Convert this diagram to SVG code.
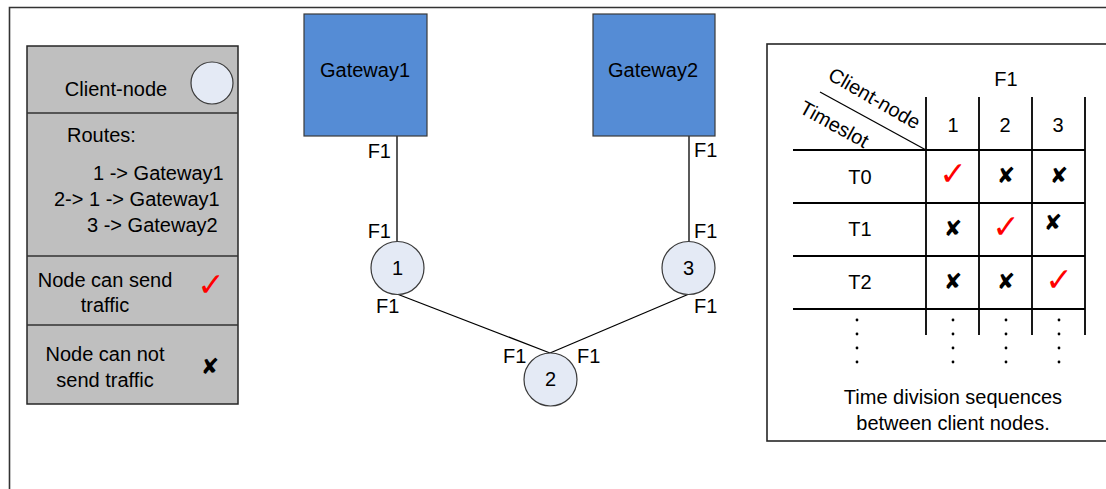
<svg xmlns="http://www.w3.org/2000/svg" width="1106" height="489" viewBox="0 0 1106 489">
<style>
text{font-family:"Liberation Sans",Arial,sans-serif;font-size:20px;fill:#000}
.m{text-anchor:middle}
.e{text-anchor:end}
.gw{fill:#558CD5;stroke:#3A3A3A;stroke-width:1.2}
.cn{fill:#E4EAF5;stroke:#3A3A3A;stroke-width:1.2}
.ln{stroke:#000;stroke-width:1.3;fill:none}
.gl{stroke:#000;stroke-width:1.8;fill:none}
.ck{font-family:"DejaVu Sans",sans-serif;font-size:33px;fill:#FF0000;text-anchor:middle}
.xx{font-family:"DejaVu Sans",sans-serif;font-size:22px;fill:#000;text-anchor:middle}
.dot{fill:#000}
</style>
<rect width="1106" height="489" fill="#fff"/>
<g id="frame">
<path d="M1106 7.5H9.5V489" fill="none" stroke="#333" stroke-width="1.6"/>
</g>
<g id="legend">
<rect x="27" y="46" width="211" height="358" fill="#BFBFBF" stroke="#262626" stroke-width="1.5"/>
<path d="M27 113H238M27 256H238M27 325H238" stroke="#333" stroke-width="1.5"/>
<text class="m" x="116" y="96">Client-node</text>
<circle class="cn" cx="212" cy="83" r="21"/>
<text x="67" y="142">Routes:</text>
<text x="93" y="180">1 -&gt; Gateway1</text>
<text x="54" y="206">2-&gt; 1 -&gt; Gateway1</text>
<text x="87" y="232">3 -&gt; Gateway2</text>
<text class="m" x="105" y="287">Node can send</text>
<text class="m" x="105" y="312">traffic</text>
<text class="ck" x="211" y="296">✓</text>
<text class="m" x="105" y="361">Node can not</text>
<text class="m" x="105" y="387">send traffic</text>
<text class="xx" x="210" y="374">✘</text>
</g>
<g id="connectors">
<path class="ln" d="M397 136V242"/>
<path class="ln" d="M689 136V242"/>
<path class="ln" d="M397 294L550 353"/>
<path class="ln" d="M689 294L550 353"/>
<text class="e" x="391" y="158">F1</text>
<text class="e" x="391" y="238">F1</text>
<text x="694" y="157">F1</text>
<text x="694" y="238">F1</text>
<text x="376" y="313">F1</text>
<text x="694" y="313">F1</text>
<text x="503" y="363">F1</text>
<text x="577" y="363">F1</text>
</g>
<g id="gateway1">
<rect class="gw" x="304" y="14" width="123" height="122"/>
<text class="m" x="365" y="77">Gateway1</text>
</g>
<g id="gateway2">
<rect class="gw" x="593" y="14" width="122" height="122"/>
<text class="m" x="653" y="77">Gateway2</text>
</g>
<g id="node1">
<circle class="cn" cx="397.5" cy="268" r="26.5"/>
<text class="m" x="397.5" y="275">1</text>
</g>
<g id="node2">
<circle class="cn" cx="550.5" cy="379.5" r="26.5"/>
<text class="m" x="550.5" y="386">2</text>
</g>
<g id="node3">
<circle class="cn" cx="688.5" cy="268" r="26.5"/>
<text class="m" x="688.5" y="275">3</text>
</g>
<g id="table">
<rect x="767" y="44" width="345" height="397" fill="#fff" stroke="#262626" stroke-width="1.6"/>
<path class="gl" d="M926 97V335M979 97V335M1032 97V335M1085 97V335"/>
<path class="gl" d="M793 150H1085M793 203H1085M793 256H1085M793 309H1085"/>
<path class="ln" d="M820 92L926 150"/>
<text class="m" x="1006" y="86">F1</text>
<text class="m" x="953" y="132">1</text>
<text class="m" x="1005" y="132">2</text>
<text class="m" x="1058" y="132">3</text>
<text class="m" transform="translate(874,99) rotate(30)" y="6">Client-node</text>
<text class="m" transform="translate(834,125) rotate(29)" y="6">Timeslot</text>
<text class="m" x="860" y="184">T0</text>
<text class="m" x="860" y="236">T1</text>
<text class="m" x="860" y="289">T2</text>
<text class="ck" x="953" y="185">✓</text>
<text class="ck" x="1006" y="238">✓</text>
<text class="ck" x="1059" y="291">✓</text>
<text class="xx" x="1006" y="183">✘</text>
<text class="xx" x="1059" y="183">✘</text>
<text class="xx" x="953" y="236">✘</text>
<text class="xx" x="1053" y="230">✘</text>
<text class="xx" x="953" y="289">✘</text>
<text class="xx" x="1006" y="289">✘</text>
<g class="dot">
<circle cx="857" cy="320" r="1.4"/><circle cx="857" cy="334" r="1.4"/><circle cx="857" cy="348" r="1.4"/><circle cx="857" cy="362" r="1.4"/>
<circle cx="953" cy="320" r="1.4"/><circle cx="953" cy="334" r="1.4"/><circle cx="953" cy="348" r="1.4"/><circle cx="953" cy="362" r="1.4"/>
<circle cx="1006" cy="320" r="1.4"/><circle cx="1006" cy="334" r="1.4"/><circle cx="1006" cy="348" r="1.4"/><circle cx="1006" cy="362" r="1.4"/>
<circle cx="1059" cy="320" r="1.4"/><circle cx="1059" cy="334" r="1.4"/><circle cx="1059" cy="348" r="1.4"/><circle cx="1059" cy="362" r="1.4"/>
</g>
<text class="m" x="953" y="404">Time division sequences</text>
<text class="m" x="953" y="430">between client nodes.</text>
</g>
</svg>
